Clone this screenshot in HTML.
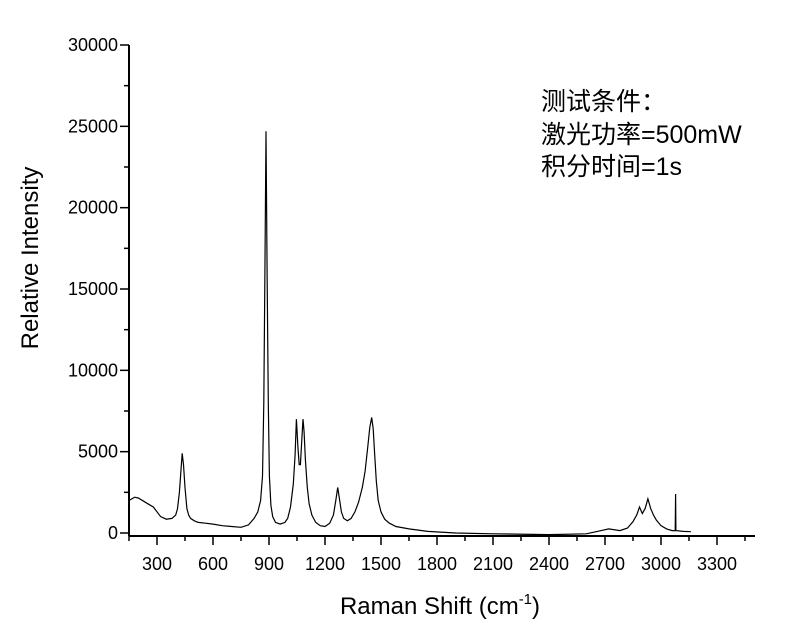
<!DOCTYPE html>
<html><head><meta charset="utf-8"><style>
body{margin:0;background:#fff;width:803px;height:628px;overflow:hidden}
svg text{font-family:"Liberation Sans","Noto Sans CJK SC",sans-serif;fill:#000}
</style></head><body>
<svg id="chart" width="803" height="628" viewBox="0 0 803 628" xmlns="http://www.w3.org/2000/svg">
<g id="axes"></g>
<g id="series"></g>
<text transform="translate(38,258) rotate(-90)" text-anchor="middle" font-size="24">Relative Intensity</text>
<text x="440" y="614" text-anchor="middle" font-size="24">Raman Shift (cm<tspan font-size="15" dy="-10">-1</tspan><tspan dy="10">)</tspan></text>
<g font-size="25">
<text x="541" y="110">测试条件：</text>
<text x="541" y="143">激光功率=500mW</text>
<text x="541" y="175">积分时间=1s</text>
</g>
</svg>
<script>
const xTicks=[300,600,900,1200,1500,1800,2100,2400,2700,3000,3300];
const yTicks=[0,5000,10000,15000,20000,25000,30000];
const shifts=[150,180,200,250,280,320,350,380,400,410,420,428,435,442,450,460,470,480,500,520,560,600,650,700,750,790,820,840,855,865,872,878,884,890,896,902,910,920,935,960,985,1000,1015,1030,1040,1047,1055,1062,1068,1075,1082,1088,1095,1105,1115,1130,1150,1175,1200,1225,1245,1258,1268,1276,1288,1300,1320,1340,1360,1380,1400,1415,1428,1440,1450,1458,1466,1475,1485,1500,1520,1545,1580,1650,1750,1900,2100,2400,2600,2680,2720,2780,2820,2850,2870,2885,2900,2915,2930,2945,2960,2975,3000,3030,3060,3076,3078,3080,3120,3160];
const intensities=[2000,2200,2150,1800,1600,1000,850,900,1100,1500,2500,3800,4900,4200,2800,1500,1100,900,750,650,600,550,450,400,350,500,900,1300,2000,3500,8000,16000,24700,16000,8000,3500,1700,1000,650,550,650,900,1600,3000,4800,7000,5300,4200,4200,5600,7000,6200,4500,2800,1800,1100,650,450,400,600,1100,2000,2800,2200,1300,900,750,900,1300,1900,2800,3800,5200,6500,7100,6400,4800,3200,2000,1300,850,600,400,250,100,0,-50,-100,-50,150,250,150,300,700,1100,1600,1200,1500,2100,1500,1100,800,450,250,150,150,2400,150,100,80];
const NS="http://www.w3.org/2000/svg";
const X0=129,X1=755,Y0=536;
function xs(v){return 157+(v-300)*56/300;}
function ys(v){return 533-v*488/30000;}
const ax=document.getElementById('axes');
function mk(tag,attrs,parent){const e=document.createElementNS(NS,tag);for(const k in attrs)e.setAttribute(k,attrs[k]);parent.appendChild(e);return e;}
let l=mk('line',{x1:X0,y1:Y0,x2:X1,y2:Y0,stroke:'#000','stroke-width':2},ax);


l=mk('line',{x1:X0,y1:Y0,x2:X0,y2:ys(30000),stroke:'#000','stroke-width':2},ax);


for(let v=150;v<=3450;v+=150){const major=xTicks.includes(v);const x=xs(v);
 const t=mk('line',{x1:x,y1:Y0,x2:x,y2:Y0+(major?9:5),stroke:'#000','stroke-width':1.5},ax);
 
 }
xTicks.forEach(v=>{const t=mk('text',{x:xs(v),y:Y0+34,'text-anchor':'middle','font-size':18},ax);t.textContent=v;
 
 });
for(let v=0;v<=30000;v+=2500){const major=yTicks.includes(v);const y=ys(v);
 const t=mk('line',{x1:X0,y1:y,x2:X0-(major?9:5),y2:y,stroke:'#000','stroke-width':1.5},ax);
 
 }
yTicks.forEach(v=>{const t=mk('text',{x:X0-11,y:ys(v)+6,'text-anchor':'end','font-size':18},ax);t.textContent=v;
 
 });
const d=shifts.map((s,i)=>(i?'L':'M')+xs(s).toFixed(1)+','+ys(intensities[i]).toFixed(1)).join('');
const p=mk('path',{d:d,fill:'none',stroke:'#000','stroke-width':1.2},document.getElementById('series'));


</script>
</body></html>
